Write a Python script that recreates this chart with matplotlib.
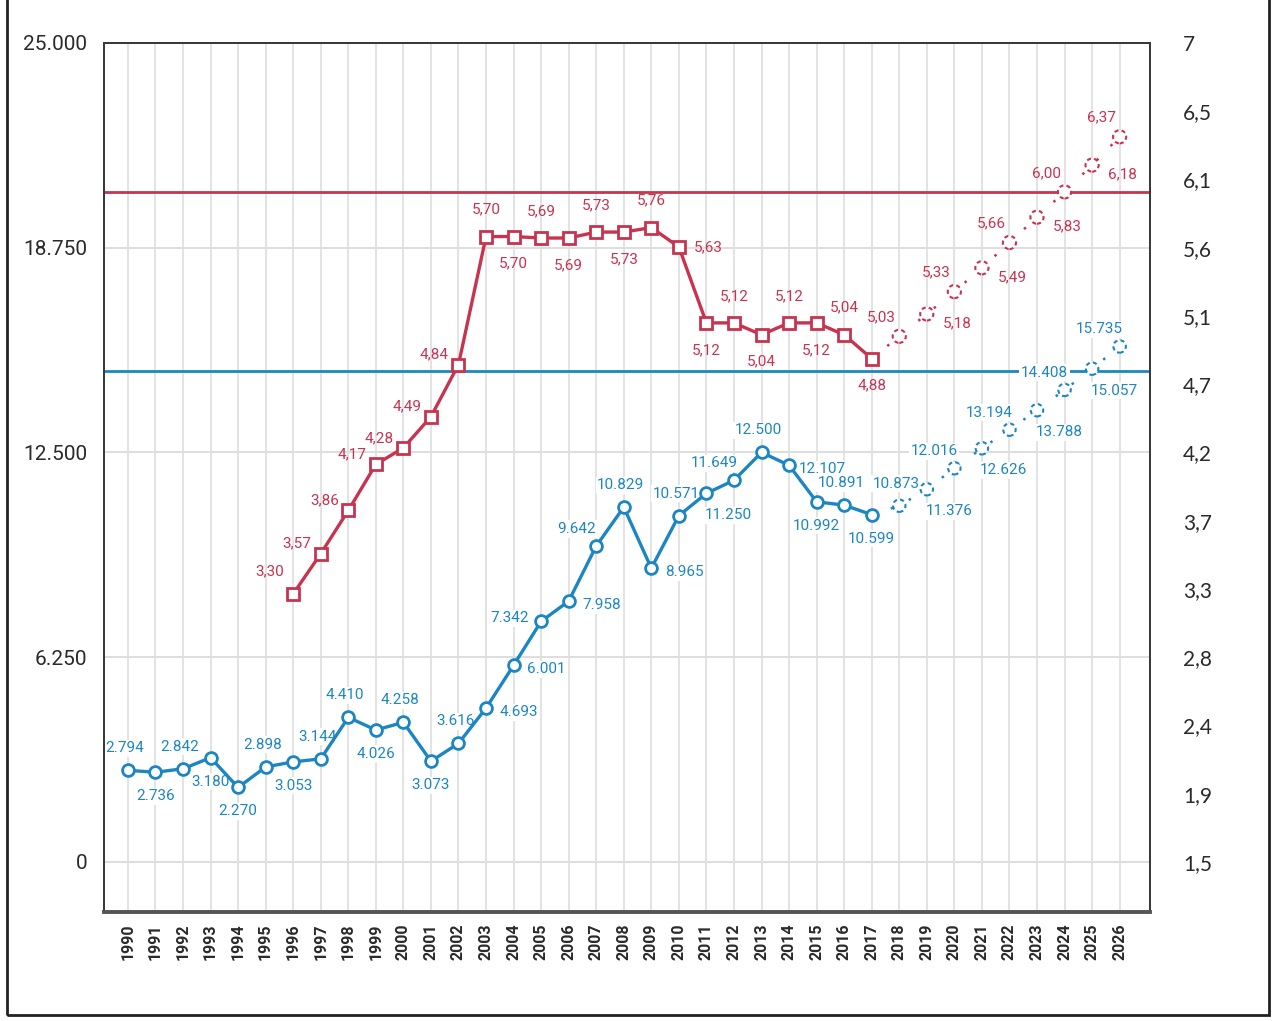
import matplotlib
matplotlib.use("Agg")
import matplotlib.pyplot as plt
from matplotlib.patches import Rectangle
import numpy as np

NARROW = ["Roboto", "DejaVu Sans"]
BLUE = "#1c86c3"
RED = "#c8334f"
GRID = "#dedede"

# blue series (left axis)
blue_years = list(range(1990, 2018))
blue_values = [2794, 2736, 2842, 3180, 2270, 2898, 3053, 3144, 4410, 4026,
               4258, 3073, 3616, 4693, 6001, 7342, 7958, 9642, 10829, 8965,
               10571, 11250, 11649, 12500, 12107, 10992, 10891, 10599]
blue_fc_years = list(range(2018, 2027))
blue_fc_values = [10873, 11376, 12016, 12626, 13194, 13788, 14408, 15057, 15735]
blue_pos = ["a", "b", "a", "b", "b", "a", "b", "a", "a", "b",
            "a", "b", "a", "r", "r", "l", "r", "al", "a", "r",
            "a", "br", "al", "a", "r", "b", "a", "b"]
blue_fc_pos = ["a", "br", "al", "br", "al", "br", "al", "br", "al"]
blue_ref = 15000

# red series (right axis)
red_years = list(range(1996, 2018))
red_values = [3.30, 3.57, 3.86, 4.17, 4.28, 4.49, 4.84, 5.70, 5.70, 5.69,
              5.69, 5.73, 5.73, 5.76, 5.63, 5.12, 5.12, 5.04, 5.12, 5.12,
              5.04, 4.88]
red_fc_years = list(range(2018, 2027))
red_fc_values = [5.03, 5.18, 5.33, 5.49, 5.66, 5.83, 6.00, 6.18, 6.37]
red_pos = ["ul", "l", "l", "l", "l", "l", "l", "a", "b", "a",
           "b", "a", "b", "a", "r", "b", "a", "b", "a", "b",
           "a", "b"]
red_fc_pos = ["al", "br", "al", "br", "al", "br", "al", "br", "al"]
red_ref = 6.00

left_ticks = [0, 6250, 12500, 18750, 25000]
left_labels = ["0", "6.250", "12.500", "18.750", "25.000"]
right_labels = ["1,5", "1,9", "2,4", "2,8", "3,3", "3,7", "4,2", "4,7",
                "5,1", "5,6", "6,1", "6,5", "7"]

# label offsets in pixels
BLUE_OFF = {"a": (-3, 22), "b": (0, -24), "l": (-31, 3), "r": (33, -4),
            "al": (-20, 17), "br": (22, -22)}
RED_OFF = {"a": (0, 27), "b": (0, -27), "l": (-24, 10), "ul": (-24, 23),
           "r": (29, 0), "al": (-18, 19), "br": (30, -9)}

fig = plt.figure(figsize=(12.77, 10.21), dpi=100)
fig.add_artist(Rectangle((0.0055, 0.006), 0.988, 1.0, transform=fig.transFigure,
                         fill=False, edgecolor="#222222", linewidth=2))

ax = fig.add_axes([0.0814, 0.1068, 0.8191, 0.8511])
y0, y1 = -1530, 25000
ax.set_ylim(y0, y1)
ax.set_xlim(1989.13, 2027.1)

# right axis maps 1.5 -> 0 and 7 -> 25000
ax2 = ax.twinx()
ax2.set_ylim(1.5 + y0 / 25000 * 5.5, 1.5 + y1 / 25000 * 5.5)

for x in range(1990, 2027):
    ax.axvline(x, color=GRID, lw=1.2, zorder=0)
for y in left_ticks[:-1]:
    ax.axhline(y, color=GRID, lw=1.4, zorder=0)

ax.axhline(blue_ref, color=BLUE, lw=2, zorder=1)
ax2.axhline(red_ref, color=RED, lw=2, zorder=1)

# blue line
ax.plot(blue_years, blue_values, color=BLUE, lw=2.4, marker="o", ms=8.5,
        mfc="white", mec=BLUE, mew=2, zorder=4)
ax.plot([blue_years[-1]] + blue_fc_years, [blue_values[-1]] + blue_fc_values,
        color=BLUE, lw=1.8, ls=(0, (1, 7)), zorder=3)
ax.scatter(blue_fc_years, blue_fc_values, s=80, facecolor="white",
           edgecolor=BLUE, linewidths=1.5, linestyle=(0, (2, 1.5)), zorder=5)

# red line
ax2.plot(red_years, red_values, color=RED, lw=2.4, marker="s", ms=9,
         mfc="white", mec=RED, mew=2, zorder=4)
ax2.plot([red_years[-1]] + red_fc_years, [red_values[-1]] + red_fc_values,
         color=RED, lw=1.8, ls=(0, (1, 7)), zorder=3)
ax2.scatter(red_fc_years, red_fc_values, s=90, facecolor="white",
            edgecolor=RED, linewidths=1.5, linestyle=(0, (2, 1.5)), zorder=5)


def fmt_blue(v):
    return f"{v:,}".replace(",", ".")


def fmt_red(v):
    return f"{v:.2f}".replace(".", ",")


def put_labels(axis, xs, vs, codes, offs, fmt, color, box):
    for x, v, c in zip(xs, vs, codes):
        kw = {}
        if box:
            kw["bbox"] = dict(boxstyle="square,pad=0.1", fc="white", ec="none")
        axis.annotate(fmt(v), (x, v), xytext=offs[c], textcoords="offset pixels",
                      ha="center", va="center", color=color, fontsize=11,
                      family=NARROW, zorder=2, **kw)


put_labels(ax, blue_years, blue_values, blue_pos, BLUE_OFF, fmt_blue, BLUE, True)
put_labels(ax, blue_fc_years, blue_fc_values, blue_fc_pos, BLUE_OFF, fmt_blue, BLUE, True)
put_labels(ax2, red_years, red_values, red_pos, RED_OFF, fmt_red, RED, False)
put_labels(ax2, red_fc_years, red_fc_values, red_fc_pos, RED_OFF, fmt_red, RED, False)

# axes styling
ax.set_yticks(left_ticks)
ax.set_yticklabels(left_labels, family=NARROW, fontsize=15, color="#2a2a2a")
ax.set_xticks(range(1990, 2027))
ax.set_xticklabels([str(y) for y in range(1990, 2027)], rotation=90,
                   family=NARROW, fontsize=11.5, fontweight="bold", color="#2a2a2a")
ax.tick_params(axis="both", length=0)
ax.tick_params(axis="y", pad=12)
ax.tick_params(axis="x", pad=8)

ax2.set_yticks(np.linspace(1.5, 7, 13))
ax2.set_yticklabels(right_labels, family=["Lato", "DejaVu Sans"], fontsize=15,
                    color="#2a2a2a")
ax2.tick_params(axis="y", length=0, pad=24)

for a in (ax, ax2):
    for s in a.spines.values():
        s.set_color("#3a3a3a")
        s.set_linewidth(1.4)
    a.spines["bottom"].set_linewidth(2.6)
    a.spines["bottom"].set_color("#555555")

fig.savefig("out.png", dpi=100)
plt.close(fig)
